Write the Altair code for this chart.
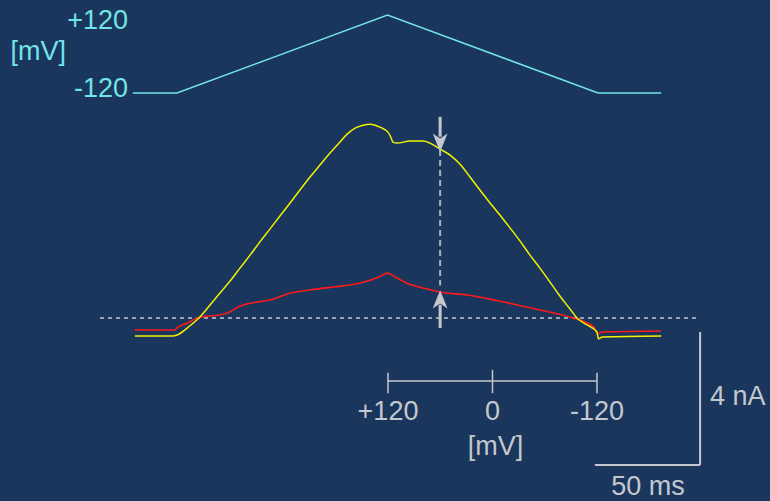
import altair as alt
import pandas as pd

# ---- data (time in ms, current in nA, voltage in mV) ----
yellow_t = [-20, -2, 0, 6, 10.9, 15.7, 20.4, 25.2, 29.9, 34.7, 39.4, 44.2, 48.9, 53.7, 58.4,
            63.2, 67.9, 72.7, 77.4, 80.8, 84.6, 88.4, 91.7, 96.4, 100.2, 101.5, 102.6, 104.5,
            110.7, 116.9, 121.1, 125, 129.7, 134.4, 139.2, 143.9, 148.7, 153.4, 158.2, 162.9,
            167.7, 172.4, 177.2, 181.9, 186.7, 190, 194.8, 199.5, 200.2, 202, 230]
yellow_i = [-0.54, -0.54, -0.51, -0.24, 0.03, 0.39, 0.75, 1.11, 1.50, 1.89, 2.29, 2.68, 3.07,
            3.46, 3.85, 4.24, 4.60, 4.96, 5.29, 5.53, 5.71, 5.80, 5.83, 5.74, 5.59, 5.45, 5.29,
            5.26, 5.32, 5.32, 5.23, 5.08, 4.90, 4.63, 4.24, 3.85, 3.46, 3.10, 2.71, 2.32, 1.89,
            1.50, 1.08, 0.66, 0.27, 0.00, -0.21, -0.42, -0.63, -0.57, -0.54]
red_t = [-20, -1, 0, 5, 11, 20, 24, 30, 38, 44, 54, 63, 74, 82, 87, 96, 100, 103, 109, 119,
         125, 138, 153, 166, 179, 188, 198, 200, 202, 230]
red_i = [-0.36, -0.36, -0.30, -0.15, 0.03, 0.09, 0.15, 0.36, 0.48, 0.54, 0.75, 0.84, 0.93, 0.99,
         1.05, 1.23, 1.35, 1.26, 1.05, 0.87, 0.78, 0.69, 0.51, 0.33, 0.15, 0.00, -0.27, -0.48,
         -0.42, -0.39]
ramp_t = [-21, 0, 100, 200, 230]
ramp_mv = [-120, -120, 120, -120, -120]

mv_ticks = [120, 0, -120]
mv_tick_labels = ["+120", "0", "-120"]
probe_t = 125            # time of the two arrows
bar_ms = 50
bar_na = 4

# ---- scales (fixed so the layout matches the reference) ----
T_DOM = [-84.09, 281.71]
I_DOM = [-5.504, 9.564]
V_DOM = [-1375.4, 166.15]
MV_DOM = [565.56, -318.67]

BG = "#1a365d"
CYAN = "#72e4e8"
GRAY = "#c4c8ce"
DOT = "#9aa5b5"
FONT = "Liberation Sans"
FS = 27

ARROW_DOWN = "M-0.8,-1L0,1L0.8,-1L0,-0.45Z"
ARROW_UP = "M-0.8,1L0,-1L0.8,1L0,0.45Z"


def sc(dom):
    return alt.Scale(domain=dom, nice=False, zero=False)


def X(f, dom=T_DOM):
    return alt.X(f, type="quantitative", scale=sc(dom), axis=None)


def X2(f):
    return alt.X2(f)


def Y(f, dom=I_DOM):
    return alt.Y(f, type="quantitative", scale=sc(dom), axis=None)


def Y2(f):
    return alt.Y2(f)


yellow_df = pd.DataFrame({"t": yellow_t, "i": yellow_i})
red_df = pd.DataFrame({"t": red_t, "i": red_i})
ramp_df = pd.DataFrame({"t": ramp_t, "v": ramp_mv})

layers = []

# zero-current dotted line
zero_df = pd.DataFrame({"t0": [-36.6], "t1": [248.0], "i": [0.0]})
layers.append(alt.Chart(zero_df).mark_rule(color=DOT, strokeWidth=2, strokeDash=[4, 4]).encode(
    x=X("t0"), x2=X2("t1"), y=Y("i")))

# voltage ramp
layers.append(alt.Chart(ramp_df).mark_line(color=CYAN, strokeWidth=1.5).encode(
    x=X("t"), y=Y("v", V_DOM), order="t:Q"))

# voltage labels
vlab_df = pd.DataFrame({"t": [-23.3, -23.3], "v": [120, -120], "s": ["+120", "-120"]})
layers.append(alt.Chart(vlab_df.iloc[[0]]).mark_text(
    color=CYAN, font=FONT, fontSize=FS, align="right", baseline="alphabetic", dy=14).encode(
    x=X("t"), y=Y("v", V_DOM), text="s:N"))
layers.append(alt.Chart(vlab_df.iloc[[1]]).mark_text(
    color=CYAN, font=FONT, fontSize=FS, align="right", baseline="alphabetic", dy=4).encode(
    x=X("t"), y=Y("v", V_DOM), text="s:N"))
layers.append(alt.Chart(pd.DataFrame({"t": [-52.7], "v": [0], "s": ["[mV]"]})).mark_text(
    color=CYAN, font=FONT, fontSize=FS, align="right", baseline="alphabetic", dy=6).encode(
    x=X("t"), y=Y("v", V_DOM), text="s:N"))

# current traces
layers.append(alt.Chart(red_df).mark_line(color="#ff1a1a", strokeWidth=1.6,
                                          interpolate="monotone").encode(
    x=X("t"), y=Y("i"), order="t:Q"))
layers.append(alt.Chart(yellow_df).mark_line(color="#f2f200", strokeWidth=1.5,
                                             interpolate="monotone").encode(
    x=X("t"), y=Y("i"), order="t:Q"))

# probe: dashed vertical and arrows
y_top = yellow_i[yellow_t.index(probe_t)]
r_top = red_i[red_t.index(probe_t)]
layers.append(alt.Chart(pd.DataFrame({"t": [probe_t], "a": [y_top - 0.03], "b": [r_top + 0.2]}))
              .mark_rule(color="#aab3c2", strokeWidth=2, strokeDash=[6, 4]).encode(
    x=X("t"), y=Y("a"), y2=Y2("b")))
layers.append(alt.Chart(pd.DataFrame({"t": [probe_t], "a": [6.05], "b": [5.45]}))
              .mark_rule(color=GRAY, strokeWidth=3).encode(x=X("t"), y=Y("a"), y2=Y2("b")))
layers.append(alt.Chart(pd.DataFrame({"t": [probe_t], "a": [5.27]}))
              .mark_point(shape=ARROW_DOWN, size=340, filled=True, color=GRAY, opacity=1,
                          strokeWidth=0).encode(x=X("t"), y=Y("a")))
layers.append(alt.Chart(pd.DataFrame({"t": [probe_t], "a": [-0.30], "b": [0.40]}))
              .mark_rule(color=GRAY, strokeWidth=3).encode(x=X("t"), y=Y("a"), y2=Y2("b")))
layers.append(alt.Chart(pd.DataFrame({"t": [probe_t], "a": [r_top - 0.22]}))
              .mark_point(shape=ARROW_UP, size=340, filled=True, color=GRAY, opacity=1,
                          strokeWidth=0).encode(x=X("t"), y=Y("a")))

# mV axis under the traces
AX_I = -1.895
axis_df = pd.DataFrame({"m0": [mv_ticks[0]], "m1": [mv_ticks[-1]], "i": [AX_I]})
layers.append(alt.Chart(axis_df).mark_rule(color=GRAY, strokeWidth=1.5).encode(
    x=X("m0", MV_DOM), x2=X2("m1"), y=Y("i")))
ticks_df = pd.DataFrame({"m": mv_ticks, "a": [-1.65, -1.56, -1.65], "b": [-2.26] * 3,
                         "s": mv_tick_labels, "lab": [-3.07] * 3})
layers.append(alt.Chart(ticks_df).mark_rule(color=GRAY, strokeWidth=1.5).encode(
    x=X("m", MV_DOM), y=Y("a"), y2=Y2("b")))
layers.append(alt.Chart(ticks_df).mark_text(
    color=GRAY, font=FONT, fontSize=FS, align="center", baseline="alphabetic").encode(
    x=X("m", MV_DOM), y=Y("lab"), text="s:N"))
layers.append(alt.Chart(pd.DataFrame({"m": [0], "i": [-4.12], "s": ["[mV]"]})).mark_text(
    color=GRAY, font=FONT, fontSize=FS, align="center", baseline="alphabetic", dx=3).encode(
    x=X("m", MV_DOM), y=Y("i"), text="s:N"))

# scale bars
BAR_T1 = 248.5
BAR_I0 = -4.42
sb_df = pd.DataFrame({"t0": [BAR_T1 - bar_ms], "t1": [BAR_T1], "i0": [BAR_I0],
                      "i1": [BAR_I0 + bar_na]})
layers.append(alt.Chart(sb_df).mark_rule(color=GRAY, strokeWidth=2).encode(
    x=X("t0"), x2=X2("t1"), y=Y("i0")))
layers.append(alt.Chart(sb_df).mark_rule(color=GRAY, strokeWidth=2).encode(
    x=X("t1"), y=Y("i0"), y2=Y2("i1")))
layers.append(alt.Chart(pd.DataFrame({"t": [253.2], "i": [-2.62], "s": [f"{bar_na} nA"]})).mark_text(
    color=GRAY, font=FONT, fontSize=FS, align="left", baseline="alphabetic").encode(
    x=X("t"), y=Y("i"), text="s:N"))
layers.append(alt.Chart(pd.DataFrame({"t": [223.8], "i": [-5.32], "s": [f"{bar_ms} ms"]})).mark_text(
    color=GRAY, font=FONT, fontSize=FS, align="center", baseline="alphabetic").encode(
    x=X("t"), y=Y("i"), text="s:N"))

chart = alt.layer(*layers).resolve_scale(x="independent", y="independent").properties(
    width=770, height=501, padding=0, autosize=alt.AutoSizeParams(type="none"),
    background=BG,
).configure_view(stroke=None)

chart.save("out.html", embed_options={"renderer": "svg", "actions": False})
